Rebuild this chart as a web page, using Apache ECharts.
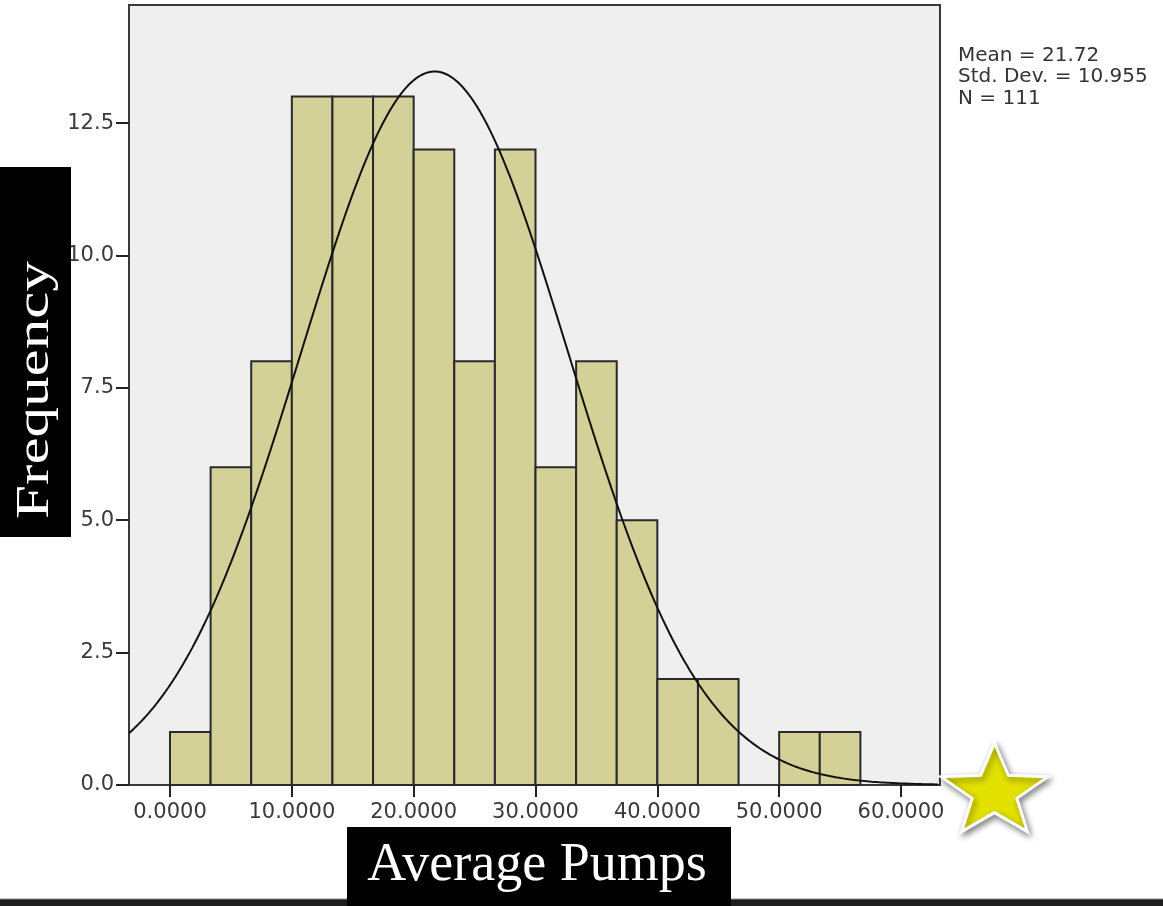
<!DOCTYPE html>
<html>
<head>
<meta charset="utf-8">
<title>Average Pumps histogram</title>
<script src="https://cdn.jsdelivr.net/npm/echarts@6/dist/echarts.min.js"></script>
<style>
  html, body { margin: 0; padding: 0; background: #ffffff; }
  #chart { width: 1163px; height: 906px; }
</style>
</head>
<body>
<div id="chart"></div>
<script>
// Histogram bins: lower edge of the first bin and common width
const binStart = 0;
const binWidth = 10 / 3;
// Count of cases in each bin
const frequencies = [1, 6, 8, 13, 13, 13, 12, 8, 12, 6, 8, 5, 2, 2, 0, 1, 1];
// Axis ticks
const xTicks = [0, 10, 20, 30, 40, 50, 60];
const yTicks = [0, 2.5, 5, 7.5, 10, 12.5];
// Summary statistics printed beside the plot
const meanValue = 21.72;
const stdDev = 10.955;
const sampleSize = 111;
// Axis titles
const xTitle = 'Average Pumps';
const yTitle = 'Frequency';

// Visible axis ranges
const xMin = -3.365, xMax = 63.2;
const yMin = 0, yMax = 14.73;

const binRows = frequencies.map((f, i) => [binStart + i * binWidth, binStart + (i + 1) * binWidth, f]);

// Normal curve scaled to counts per bin, from the stated mean, SD and N
const curve = [];
for (let x = xMin; x <= xMax + 1e-9; x += 0.2) {
  const z = (x - meanValue) / stdDev;
  const y = sampleSize * binWidth * Math.exp(-0.5 * z * z) / (stdDev * Math.sqrt(2 * Math.PI));
  curve.push([x, y]);
}

const statLines = [
  'Mean = ' + meanValue.toFixed(2),
  'Std. Dev. = ' + stdDev.toFixed(3),
  'N = ' + sampleSize
];

const axisColor = '#3a3a3a';
const labelFont = { fontFamily: 'DejaVu Sans', fontSize: 21, color: '#3a3a3a' };

// Star ornament next to the x-axis end
function starPoints(cx, cy, rx, ry, innerRatio) {
  const pts = [];
  for (let i = 0; i < 10; i++) {
    const a = -Math.PI / 2 + i * Math.PI / 5;
    const r = i % 2 === 0 ? 1 : innerRatio;
    pts.push([cx + rx * r * Math.cos(a), cy + ry * r * Math.sin(a)]);
  }
  return pts;
}

const chart = echarts.init(document.getElementById('chart'), null, { renderer: 'canvas' });

chart.setOption({
  animation: false,
  backgroundColor: '#ffffff',
  grid: {
    left: 129, top: 5, width: 811, height: 780,
    show: true, backgroundColor: '#efefef',
    borderColor: axisColor, borderWidth: 2
  },
  xAxis: {
    type: 'value', min: xMin, max: xMax,
    axisLine: { show: true, onZero: false, lineStyle: { color: axisColor, width: 2 } },
    axisTick: { show: true, length: 12, customValues: xTicks, lineStyle: { color: '#222', width: 2 } },
    axisLabel: Object.assign({ customValues: xTicks, margin: 17, formatter: v => v.toFixed(4) }, labelFont),
    splitLine: { show: false }
  },
  yAxis: {
    type: 'value', min: yMin, max: yMax,
    axisLine: { show: true, onZero: false, lineStyle: { color: axisColor, width: 2 } },
    axisTick: { show: true, length: 13, customValues: yTicks, lineStyle: { color: '#222', width: 2 } },
    axisLabel: Object.assign({ customValues: yTicks, margin: 15, formatter: v => v.toFixed(1) }, labelFont),
    splitLine: { show: false }
  },
  series: [
    {
      type: 'custom',
      data: binRows,
      encode: { x: [0, 1], y: 2 },
      renderItem: function (params, api) {
        const h = api.value(2);
        if (!h) return null;
        const p0 = api.coord([api.value(0), h]);
        const p1 = api.coord([api.value(1), 0]);
        return {
          type: 'rect',
          shape: { x: p0[0], y: p0[1], width: p1[0] - p0[0], height: p1[1] - p0[1] },
          style: { fill: '#d3d098', stroke: '#2a2a2a', lineWidth: 2 }
        };
      },
      z: 2
    },
    {
      type: 'line',
      data: curve,
      showSymbol: false,
      smooth: false,
      clip: true,
      lineStyle: { color: '#111111', width: 2 },
      z: 3
    }
  ],
  graphic: [
    // statistics block
    {
      type: 'text', left: 958, top: 45, z: 10,
      style: { text: statLines.join('\n'), fontFamily: 'DejaVu Sans', fontSize: 20, lineHeight: 21.5, fill: '#333333' }
    },
    // y-axis title plate
    { type: 'rect', shape: { x: 0, y: 167, width: 71, height: 370 }, style: { fill: '#000000' }, z: 10 },
    {
      type: 'text', x: 36, y: 390, rotation: Math.PI / 2, scaleX: 1.3, z: 11,
      style: { text: yTitle, fontFamily: 'Liberation Serif', fontSize: 47, fill: '#ffffff', align: 'center', verticalAlign: 'middle' }
    },
    // bottom band
    { type: 'rect', shape: { x: 0, y: 899, width: 1163, height: 7 }, style: { fill: '#1e1e1e' }, z: 9 },
    { type: 'rect', shape: { x: 0, y: 898.5, width: 1163, height: 1 }, style: { fill: '#8a8a8a' }, z: 9 },
    // x-axis title plate
    { type: 'rect', shape: { x: 347, y: 827, width: 384, height: 79 }, style: { fill: '#000000' }, z: 10 },
    {
      type: 'text', x: 537, y: 866, z: 11,
      style: { text: xTitle, fontFamily: 'Liberation Serif', fontSize: 54, fill: '#ffffff', align: 'center', verticalAlign: 'middle' }
    },
    // star
    {
      type: 'polygon', z: 12,
      shape: { points: starPoints(994.5, 792, 56, 49, 0.42) },
      style: {
        fill: '#e2e100', stroke: '#ffffff', lineWidth: 3, lineJoin: 'miter',
        shadowBlur: 6, shadowColor: 'rgba(0,0,0,0.45)', shadowOffsetX: 2, shadowOffsetY: 3
      }
    }
  ]
});
</script>
</body>
</html>
